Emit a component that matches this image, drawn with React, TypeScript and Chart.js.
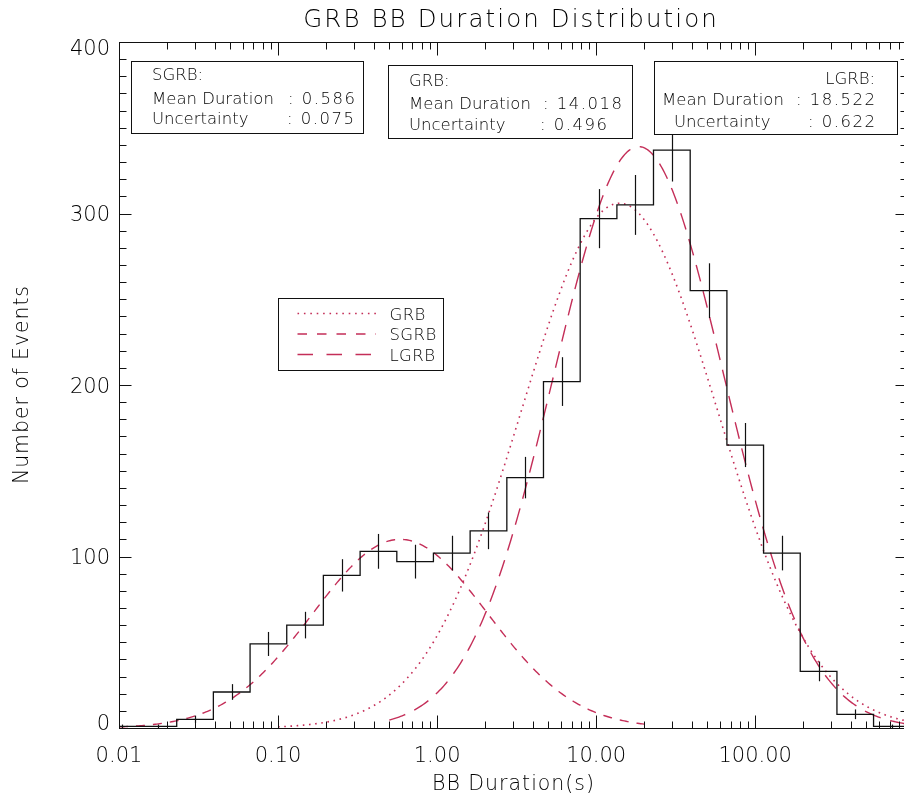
import React, { useEffect, useRef } from "react";
import { Chart, registerables } from "chart.js";

Chart.register(...registerables);

// Histogram of burst durations: bin edges (s) and event counts per bin
const binEdges = [
  0.00797, 0.01355, 0.02306, 0.0392, 0.0667, 0.1134, 0.1927, 0.328, 0.558,
  0.948, 1.613, 2.744, 4.664, 7.934, 13.5, 22.93, 39.01, 66.37, 112.8, 191.9,
  326.4, 554.6, 943.6,
];
const binCounts = [
  1, 1, 5, 21, 49, 60, 89, 103, 97, 102, 115, 146, 202, 297, 305, 337, 255,
  165, 102, 33, 8, 1,
];

// Log-normal fits: mean duration (s), uncertainty, peak height (events), width (dex)
const fitNames = ["GRB", "SGRB", "LGRB"];
const fitMeans = [14.018, 0.586, 18.522];
const fitUncertainties = [0.496, 0.075, 0.622];
const fitPeaks = [306, 110, 339];
const fitWidths = [0.615, 0.55, 0.535];
const fitFrom = [0.1, 0.01, 0.5];
const fitTo = [900, 20, 900];

// Axes
const xMin = 0.01;
const xMax = 900;
const yMin = 0;
const yMax = 400;
const xTickValues = [0.01, 0.1, 1, 10, 100];
const xTickLabels = ["0.01", "0.10", "1.00", "10.00", "100.00"];
const yTickValues = [0, 100, 200, 300, 400];
const yTickLabels = ["0", "100", "200", "300", "400"];

const INK = "#111";
const TEXT_INK = "#000";
const FIT_COLOR = "rgb(196, 46, 88)";
const FONT = "'DejaVu Sans', 'Liberation Sans', sans-serif";
const WEIGHT = 200;

const fitDash: number[][] = [
  [1.6, 4.6],
  [9, 8],
  [17, 10],
];
const legendDash: number[][] = [
  [1.6, 4.8],
  [9.5, 10],
  [15.5, 13.5],
];

function fitCurve(k: number) {
  const pts: { x: number; y: number }[] = [];
  const lo = Math.log10(fitFrom[k]);
  const hi = Math.log10(fitTo[k]);
  const mu = Math.log10(fitMeans[k]);
  const s = fitWidths[k];
  const n = 320;
  for (let i = 0; i <= n; i++) {
    const lx = lo + ((hi - lo) * i) / n;
    const y = fitPeaks[k] * Math.exp(-((lx - mu) ** 2) / (2 * s * s));
    pts.push({ x: 10 ** lx, y });
  }
  return pts;
}

function text(
  ctx: CanvasRenderingContext2D,
  str: string,
  x: number,
  cy: number,
  size: number,
  align: CanvasTextAlign = "left",
  spacing = 0
) {
  ctx.font = `${WEIGHT} ${size}px ${FONT}`;
  (ctx as any).letterSpacing = `${spacing}px`;
  ctx.textAlign = align;
  ctx.textBaseline = "alphabetic";
  let dx = 0;
  if (align === "center") dx = spacing / 2;
  else if (align === "right") dx = spacing;
  ctx.fillText(str, x + dx, cy + 0.3645 * size);
}

function seg(ctx: CanvasRenderingContext2D, x1: number, y1: number, x2: number, y2: number) {
  ctx.beginPath();
  ctx.moveTo(x1, y1);
  ctx.lineTo(x2, y2);
  ctx.stroke();
}

// Annotation boxes with the fit results
const infoBoxes = [
  {
    box: [131.5, 61.5, 363.5, 133.5],
    head: "SGRB:", headX: 152, headAlign: "left" as CanvasTextAlign, headY: 74,
    rows: [
      { label: "Mean Duration", lx: 152, rx: 355, y: 97.5, value: fitMeans[1].toFixed(3) },
      { label: "Uncertainty", lx: 152, rx: 354, y: 118, value: fitUncertainties[1].toFixed(3) },
    ],
  },
  {
    box: [388.5, 65.5, 632.5, 138.5],
    head: "GRB:", headX: 409, headAlign: "left" as CanvasTextAlign, headY: 80,
    rows: [
      { label: "Mean Duration", lx: 409, rx: 622, y: 102.5, value: fitMeans[0].toFixed(3) },
      { label: "Uncertainty", lx: 409, rx: 607, y: 124, value: fitUncertainties[0].toFixed(3) },
    ],
  },
  {
    box: [654.5, 61.5, 897.5, 134.5],
    head: "LGRB:", headX: 875, headAlign: "right" as CanvasTextAlign, headY: 78,
    rows: [
      { label: "Mean Duration", lx: 662, rx: 875, y: 99, value: fitMeans[2].toFixed(3) },
      { label: "Uncertainty", lx: 674, rx: 875, y: 120.5, value: fitUncertainties[2].toFixed(3) },
    ],
  },
];

const decorations = {
  id: "decorations",
  afterDatasetsDraw(chart: any) {
    const { ctx, chartArea: a } = chart;
    const xs = chart.scales.x;
    const ys = chart.scales.y;
    ctx.save();

    // Poisson error bars at the log-centre of each bin
    ctx.save();
    ctx.beginPath();
    ctx.rect(a.left, a.top, a.right - a.left, a.bottom - a.top);
    ctx.clip();
    ctx.strokeStyle = INK;
    ctx.lineWidth = 1.2;
    binCounts.forEach((n, i) => {
      const c = Math.sqrt(binEdges[i] * binEdges[i + 1]);
      const px = Math.round(xs.getPixelForValue(c)) + 0.5;
      const e = Math.sqrt(n);
      seg(ctx, px, ys.getPixelForValue(n - e), px, ys.getPixelForValue(n + e));
    });
    ctx.restore();

    // Frame
    const L = Math.round(a.left) + 0.5;
    const R = Math.round(a.right) + 0.5;
    const T = Math.round(a.top) + 0.5;
    const B = Math.round(a.bottom) + 0.5;
    ctx.strokeStyle = INK;
    ctx.lineWidth = 1;
    ctx.setLineDash([]);
    ctx.strokeRect(L, T, R - L, B - T);

    // Log ticks on bottom and top
    for (let d = -2; d <= 3; d++) {
      for (let k = 1; k <= 9; k++) {
        const v = k * 10 ** d;
        if (v < xMin * 0.999 || v > xMax * 1.001) continue;
        const px = Math.round(xs.getPixelForValue(v)) + 0.5;
        const len = k === 1 ? 13 : 7;
        seg(ctx, px, B, px, B - len);
        seg(ctx, px, T, px, T + len);
      }
    }
    // Linear ticks on left and right
    for (let v = yMin; v <= yMax; v += 10) {
      const py = Math.round(ys.getPixelForValue(v)) + 0.5;
      const len = v % 100 === 0 ? 12 : 7;
      seg(ctx, L, py, L + len, py);
      seg(ctx, R, py, R - len, py);
    }

    ctx.fillStyle = TEXT_INK;
    xTickValues.forEach((v, i) => {
      text(ctx, xTickLabels[i], xs.getPixelForValue(v), 754, 21, "center");
    });
    yTickValues.forEach((v, i) => {
      const py = Math.min(a.bottom - 6, Math.max(a.top + 5, ys.getPixelForValue(v)));
      text(ctx, yTickLabels[i], 110, py, 21, "right");
    });

    // Titles
    text(ctx, "GRB BB Duration Distribution", 510, 18, 24.5, "center", 2.1);
    text(ctx, "BB Duration(s)", (a.left + a.right) / 2, 782.5, 20.5, "center", 1);
    ctx.save();
    ctx.translate(21, (a.top + a.bottom) / 2);
    ctx.rotate(-Math.PI / 2);
    text(ctx, "Number of Events", 0, 0, 20.5, "center", 0.9);
    ctx.restore();

    // Fit result boxes
    infoBoxes.forEach((b) => {
      const [x1, y1, x2, y2] = b.box;
      ctx.fillStyle = "#fff";
      ctx.fillRect(x1, y1, x2 - x1, y2 - y1);
      ctx.strokeRect(x1, y1, x2 - x1, y2 - y1);
      ctx.fillStyle = TEXT_INK;
      text(ctx, b.head, b.headX, b.headY, 16.5, b.headAlign);
      b.rows.forEach((r) => {
        text(ctx, r.label, r.lx, r.y, 16.5, "left");
        text(ctx, ": " + r.value, r.rx, r.y, 16.5, "right", 1.5);
      });
    });

    // Legend
    const lb = [278.5, 298.5, 443.5, 370.5];
    ctx.fillStyle = "#fff";
    ctx.fillRect(lb[0], lb[1], lb[2] - lb[0], lb[3] - lb[1]);
    ctx.strokeRect(lb[0], lb[1], lb[2] - lb[0], lb[3] - lb[1]);
    const rowsY = [313.5, 334, 354.5];
    fitNames.forEach((name, k) => {
      ctx.strokeStyle = FIT_COLOR;
      ctx.lineWidth = 1.5;
      ctx.setLineDash(legendDash[k]);
      seg(ctx, 297.5, rowsY[k], 376, rowsY[k]);
      ctx.setLineDash([]);
      ctx.fillStyle = TEXT_INK;
      text(ctx, name, 389.5, rowsY[k], 16.5, "left", 0.4);
    });

    ctx.restore();
  },
};

export default function App() {
  const ref = useRef<HTMLCanvasElement | null>(null);

  useEffect(() => {
    if (!ref.current) return;
    const histData = binEdges.map((e, i) => ({
      x: e,
      y: binCounts[Math.min(i, binCounts.length - 1)],
    }));
    const datasets: any[] = [
      {
        label: "Events",
        data: histData,
        stepped: "before",
        borderColor: INK,
        borderWidth: 1.3,
        pointRadius: 0,
        fill: false,
        order: 1,
      },
      ...fitNames.map((name, k) => ({
        label: name,
        data: fitCurve(k),
        borderColor: FIT_COLOR,
        borderWidth: k === 0 ? 1.6 : 1.4,
        borderDash: fitDash[k],
        pointRadius: 0,
        tension: 0,
        fill: false,
        order: 2,
      })),
    ];
    const chart = new Chart(ref.current, {
      type: "line",
      data: { datasets },
      options: {
        animation: false,
        responsive: false,
        maintainAspectRatio: false,
        events: [],
        layout: { padding: { left: 119, top: 42, right: 3, bottom: 70 } },
        scales: {
          x: { type: "logarithmic", min: xMin, max: xMax, display: false },
          y: { type: "linear", min: yMin, max: yMax, display: false },
        },
        plugins: {
          legend: { display: false },
          tooltip: { enabled: false },
          title: { display: false },
        },
      },
      plugins: [decorations],
    });
    return () => chart.destroy();
  }, []);

  return (
    <div
      style={{
        position: "fixed",
        left: 0,
        top: 0,
        width: 904,
        height: 798,
        overflow: "hidden",
        background: "#fff",
      }}
    >
      <canvas ref={ref} width={910} height={798} style={{ display: "block" }} />
    </div>
  );
}
